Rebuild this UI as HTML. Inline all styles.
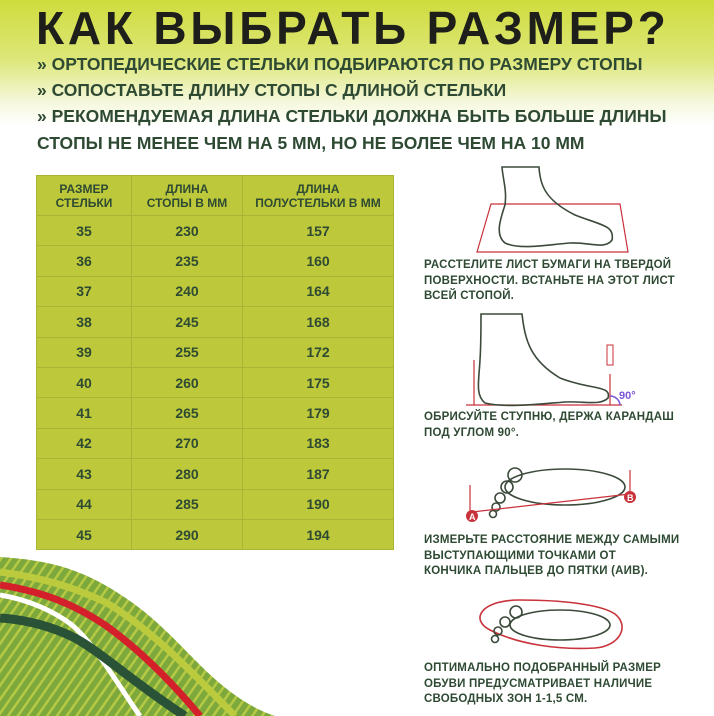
<!DOCTYPE html>
<html><head><meta charset="utf-8"><style>
body{margin:0;width:714px;height:716px;overflow:hidden;position:relative;font-family:"Liberation Sans","DejaVu Sans",sans-serif;background:linear-gradient(#cfdc3c 0px,#dde77a 60px,#f4f7d8 100px,#fff 125px);}
.t{position:absolute;white-space:nowrap;font-weight:bold;}
h1{position:absolute;left:36px;top:1px;margin:0;font-size:46px;letter-spacing:3.8px;color:#1e1e1a;font-weight:bold;white-space:nowrap}
.b{color:#2e4a33;font-size:17.5px;left:37px;letter-spacing:0px}
table{position:absolute;left:36px;top:175px;border-collapse:collapse;background:#bdc83a;color:#2e4a33;font-weight:bold}
td{border:1px solid #a9b334;text-align:center;font-size:14px;height:29.4px;padding:0}
tr.h td{font-size:12px;height:39px;line-height:14px}
.r{color:#2e4a33;font-size:11.5px;left:424px;line-height:15.5px;letter-spacing:0.2px}
</style></head><body>
<h1>КАК ВЫБРАТЬ РАЗМЕР?</h1>
<div class="t b" style="top:54px">» ОРТОПЕДИЧЕСКИЕ СТЕЛЬКИ ПОДБИРАЮТСЯ ПО РАЗМЕРУ СТОПЫ</div>
<div class="t b" style="top:80px">» СОПОСТАВЬТЕ ДЛИНУ СТОПЫ С ДЛИНОЙ СТЕЛЬКИ</div>
<div class="t b" style="top:106px">» РЕКОМЕНДУЕМАЯ ДЛИНА СТЕЛЬКИ ДОЛЖНА БЫТЬ БОЛЬШЕ ДЛИНЫ</div>
<div class="t b" style="top:133px">СТОПЫ НЕ МЕНЕЕ ЧЕМ НА 5 ММ, НО НЕ БОЛЕЕ ЧЕМ НА 10 ММ</div>
<table>
<tr class="h"><td style="width:94px">РАЗМЕР<br>СТЕЛЬКИ</td><td style="width:110px">ДЛИНА<br>СТОПЫ В ММ</td><td style="width:150px">ДЛИНА<br>ПОЛУСТЕЛЬКИ В ММ</td></tr>
<tr><td>35</td><td>230</td><td>157</td></tr>
<tr><td>36</td><td>235</td><td>160</td></tr>
<tr><td>37</td><td>240</td><td>164</td></tr>
<tr><td>38</td><td>245</td><td>168</td></tr>
<tr><td>39</td><td>255</td><td>172</td></tr>
<tr><td>40</td><td>260</td><td>175</td></tr>
<tr><td>41</td><td>265</td><td>179</td></tr>
<tr><td>42</td><td>270</td><td>183</td></tr>
<tr><td>43</td><td>280</td><td>187</td></tr>
<tr><td>44</td><td>285</td><td>190</td></tr>
<tr><td>45</td><td>290</td><td>194</td></tr>
</table>
<svg style="position:absolute;left:0;top:0" width="714" height="716">
<defs><pattern id="st" width="8" height="8" patternUnits="userSpaceOnUse" patternTransform="rotate(35)"><rect width="8" height="8" fill="#7da83c"/><rect width="2.5" height="8" fill="#b6c944"/></pattern></defs>
<path d="M0 557 C50 560 80 570 110 588 C150 612 170 635 200 665 C225 690 250 708 275 716 L0 716Z" fill="url(#st)"/>
<path d="M0 572 C45 578 75 588 105 602 C150 628 190 670 235 716" stroke="#bccb3e" stroke-width="7" fill="none"/>
<path d="M0 585 C45 592 75 605 105 625 C140 650 170 680 200 716" stroke="#d3202a" stroke-width="7" fill="none"/>
<path d="M0 595 C30 600 55 612 72 625 C95 645 115 680 140 716" stroke="#fff" stroke-width="5" fill="none"/>
<path d="M0 618 C30 620 55 628 75 638 C105 655 130 680 185 716" stroke="#2a5237" stroke-width="9" fill="none"/>
<g fill="none" stroke="#3b4a3a" stroke-width="1.6">
<polygon points="491,204 620,204 628,252 477,252" stroke="#c8323a" stroke-width="1.2"/>
<path d="M502,167 L539,167 C540,185 545,200 575,215 C600,225 615,225 612,240 C605,250 590,242 570,243 C545,245 520,250 505,243 C495,235 500,220 505,205 C507,190 503,180 502,167Z"/>
<line x1="466" y1="405" x2="622" y2="405" stroke="#c8323a" stroke-width="1.2"/>
<line x1="474" y1="360" x2="474" y2="405" stroke="#c8323a" stroke-width="1.2"/>
<line x1="610" y1="374" x2="610" y2="405" stroke="#c8323a" stroke-width="1.2"/>
<rect x="607" y="345" width="6" height="20" stroke="#c8323a" stroke-width="1"/>
<path d="M481,314 L522,314 C525,340 530,360 560,378 C590,390 612,385 608,398 C600,406 585,401 565,402 C540,404 505,408 485,403 C475,395 479,380 480,360 C481,345 481,330 481,314Z"/>
<path d="M610 396 A10 10 0 0 1 620 405" stroke="#7a55d8"/>
<ellipse cx="565" cy="487" rx="60" ry="18"/>
<circle cx="515" cy="475" r="7"/><circle cx="507" cy="487" r="6"/><circle cx="500" cy="498" r="5"/><circle cx="496" cy="507" r="4"/><circle cx="493" cy="514" r="3.5"/>
<line x1="472" y1="512" x2="630" y2="494" stroke="#c8323a" stroke-width="1.2"/>
<line x1="470" y1="485" x2="470" y2="520" stroke="#c8323a" stroke-width="1.2"/>
<line x1="630" y1="470" x2="630" y2="500" stroke="#c8323a" stroke-width="1.2"/>
<path d="M490,630 C470,620 480,600 520,600 C560,600 600,604 615,614 C630,626 620,646 595,648 C560,650 520,645 490,630Z" stroke="#c8323a"/>
<ellipse cx="560" cy="625" rx="50" ry="15"/>
<circle cx="516" cy="612" r="6"/><circle cx="505" cy="622" r="5"/><circle cx="498" cy="631" r="4"/><circle cx="495" cy="639" r="3.5"/>
</g>
<circle cx="472" cy="516" r="6" fill="#c8323a"/><text x="469" y="520" font-size="9" fill="#fff" font-weight="bold" font-family="Liberation Sans">A</text>
<circle cx="630" cy="497" r="6" fill="#c8323a"/><text x="627" y="501" font-size="9" fill="#fff" font-weight="bold" font-family="Liberation Sans">B</text>
<text x="619" y="399" font-size="11" fill="#7a55d8" font-weight="bold" font-family="Liberation Sans">90°</text>
</svg>
<div class="t r" style="top:258px">РАССТЕЛИТЕ ЛИСТ БУМАГИ НА ТВЕРДОЙ<br>ПОВЕРХНОСТИ. ВСТАНЬТЕ НА ЭТОТ ЛИСТ<br>ВСЕЙ СТОПОЙ.</div>
<div class="t r" style="top:410px">ОБРИСУЙТЕ СТУПНЮ, ДЕРЖА КАРАНДАШ<br>ПОД УГЛОМ 90°.</div>
<div class="t r" style="top:533px">ИЗМЕРЬТЕ РАССТОЯНИЕ МЕЖДУ САМЫМИ<br>ВЫСТУПАЮЩИМИ ТОЧКАМИ ОТ<br>КОНЧИКА ПАЛЬЦЕВ ДО ПЯТКИ (АИВ).</div>
<div class="t r" style="top:661px">ОПТИМАЛЬНО ПОДОБРАННЫЙ РАЗМЕР<br>ОБУВИ ПРЕДУСМАТРИВАЕТ НАЛИЧИЕ<br>СВОБОДНЫХ ЗОН 1-1,5 СМ.</div>
</body></html>
